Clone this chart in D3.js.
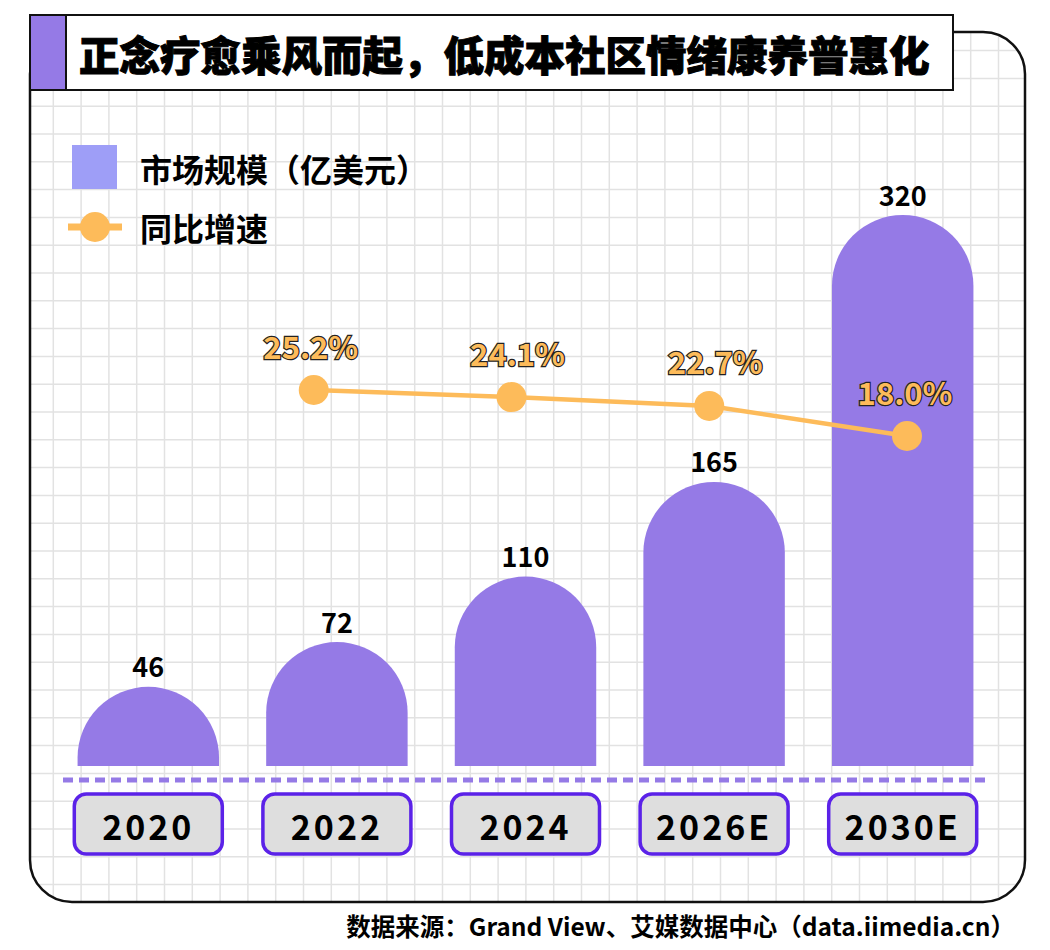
<!DOCTYPE html>
<html>
<head>
<meta charset="utf-8">
<script src="https://cdn.jsdelivr.net/npm/d3@7"></script>
<style>
  body { margin: 0; background: #fff; }
  svg text { font-family: "Noto Sans CJK SC", "Noto Sans", sans-serif; }
</style>
</head>
<body>
<div id="chart"></div>
<script>
var years = ["2020", "2022", "2024", "2026E", "2030E"];
var marketSize = [46, 72, 110, 165, 320];
var growthYears = ["2022", "2024", "2026E", "2030E"];
var growthRate = [25.2, 24.1, 22.7, 18.0];

var title = "正念疗愈乘风而起，低成本社区情绪康养普惠化";
var legendLabels = ["市场规模（亿美元）", "同比增速"];
var source = "数据来源：Grand View、艾媒数据中心（data.iimedia.cn）";

var width = 1050, height = 950;
var barColor = "#957ae6", legendBarColor = "#9e9ef7", lineColor = "#fdbb5a";

var svg = d3.select("#chart").append("svg")
    .attr("width", width)
    .attr("height", height);

// card with grid
var card = {x: 30, y: 32, w: 995, h: 870, r: 42};
svg.append("clipPath").attr("id", "cardClip")
  .append("rect")
    .attr("x", card.x).attr("y", card.y)
    .attr("width", card.w).attr("height", card.h)
    .attr("rx", card.r);

var grid = svg.append("g").attr("clip-path", "url(#cardClip)");
var gs = 27.8;
grid.selectAll(".vl")
  .data(d3.range(53.3 - gs, card.x + card.w, gs))
  .enter().append("line")
    .attr("x1", function(d) { return d; }).attr("x2", function(d) { return d; })
    .attr("y1", card.y).attr("y2", card.y + card.h)
    .attr("stroke", "#e2e2e2").attr("stroke-width", 1.5);
grid.selectAll(".hl")
  .data(d3.range(134 - 4 * gs, card.y + card.h, gs))
  .enter().append("line")
    .attr("y1", function(d) { return d; }).attr("y2", function(d) { return d; })
    .attr("x1", card.x).attr("x2", card.x + card.w)
    .attr("stroke", "#e2e2e2").attr("stroke-width", 1.5);

svg.append("rect")
    .attr("x", card.x).attr("y", card.y)
    .attr("width", card.w).attr("height", card.h)
    .attr("rx", card.r)
    .attr("fill", "none").attr("stroke", "#111").attr("stroke-width", 2.5);

// title box
svg.append("rect")
    .attr("x", 30).attr("y", 15).attr("width", 923).attr("height", 75)
    .attr("fill", "#fff").attr("stroke", "#111").attr("stroke-width", 2);
svg.append("rect")
    .attr("x", 31).attr("y", 16).attr("width", 35).attr("height", 73)
    .attr("fill", barColor);
svg.append("line")
    .attr("x1", 66).attr("x2", 66).attr("y1", 15).attr("y2", 90)
    .attr("stroke", "#111").attr("stroke-width", 2);
svg.append("text")
    .attr("x", 79).attr("y", 53)
    .attr("dominant-baseline", "central")
    .style("font-size", "40.5px").style("font-weight", 900)
    .attr("fill", "#000")
    .attr("stroke", "#000").attr("stroke-width", 1)
    .text(title);

// scales
var x = d3.scaleBand().domain(years).range([54, 997]).paddingInner(0.25).paddingOuter(0.125);
var y = d3.scaleLinear().domain([0, 320]).range([766, 215]);
var xl = d3.scalePoint().domain(years).range([116, 907]);
var yl = d3.scaleLinear().domain([0, 25.2]).range([551, 390]);

// bars with round tops
function barPath(d, i) {
  var x0 = x(years[i]), w = x.bandwidth(), r = w / 2;
  var yb = y(0), yt = y(d);
  var ya = Math.min(yt + r, yb);
  return "M" + x0 + "," + yb + "L" + x0 + "," + ya +
    "A" + r + "," + r + " 0 0 1 " + (x0 + w) + "," + ya +
    "L" + (x0 + w) + "," + yb + "Z";
}
svg.selectAll(".bar")
  .data(marketSize)
  .enter().append("path")
    .attr("class", "bar")
    .attr("d", barPath)
    .attr("fill", barColor);

svg.selectAll(".val")
  .data(marketSize)
  .enter().append("text")
    .attr("x", function(d, i) { return x(years[i]) + x.bandwidth() / 2; })
    .attr("y", function(d) { return y(d) - 21; })
    .attr("text-anchor", "middle")
    .attr("dominant-baseline", "central")
    .style("font-size", "27px").style("font-weight", 700)
    .text(function(d) { return d; });

// baseline dashed
svg.append("line")
    .attr("x1", 63).attr("x2", 985).attr("y1", 780).attr("y2", 780)
    .attr("stroke", barColor).attr("stroke-width", 5)
    .attr("stroke-dasharray", "10,6");

// year boxes
var yb = svg.selectAll(".yb")
  .data(years)
  .enter().append("g")
    .attr("transform", function(d) { return "translate(" + (x(d) + x.bandwidth() / 2) + ",824)"; });
yb.append("rect")
    .attr("x", -74).attr("y", -30).attr("width", 148).attr("height", 60)
    .attr("rx", 12)
    .attr("fill", "#dedede").attr("stroke", "#5b22e8").attr("stroke-width", 3.5);
yb.append("text")
    .attr("text-anchor", "middle")
    .attr("dominant-baseline", "central")
    .attr("y", 1)
    .style("font-size", "34px").style("font-weight", 700)
    .style("letter-spacing", "3px")
    .text(function(d) { return d; });

// growth line
var line = d3.line()
    .x(function(d, i) { return xl(growthYears[i]); })
    .y(function(d) { return yl(d); });
svg.append("path")
    .datum(growthRate)
    .attr("d", line)
    .attr("fill", "none").attr("stroke", lineColor).attr("stroke-width", 4.5);
svg.selectAll(".dot")
  .data(growthRate)
  .enter().append("circle")
    .attr("cx", function(d, i) { return xl(growthYears[i]); })
    .attr("cy", function(d) { return yl(d); })
    .attr("r", 15)
    .attr("fill", lineColor);
svg.selectAll(".pct")
  .data(growthRate)
  .enter().append("text")
    .attr("x", function(d, i) { return xl(growthYears[i]) + (i == 3 ? -2 : i == 0 ? -3 : 6); })
    .attr("y", function(d) { return yl(d) - 45; })
    .attr("text-anchor", "middle")
    .attr("dominant-baseline", "central")
    .style("font-size", "31px").style("font-weight", 700)
    .attr("fill", lineColor)
    .attr("stroke", "#222").attr("stroke-width", 2.4)
    .style("paint-order", "stroke")
    .text(function(d) { return d.toFixed(1) + "%"; });

// legend
svg.append("rect")
    .attr("x", 72).attr("y", 145).attr("width", 45).attr("height", 44)
    .attr("fill", legendBarColor);
svg.append("line")
    .attr("x1", 68).attr("x2", 122).attr("y1", 227).attr("y2", 227)
    .attr("stroke", lineColor).attr("stroke-width", 7);
svg.append("circle")
    .attr("cx", 95).attr("cy", 227).attr("r", 15)
    .attr("fill", lineColor);
svg.selectAll(".lg")
  .data(legendLabels)
  .enter().append("text")
    .attr("x", 140)
    .attr("y", function(d, i) { return i == 0 ? 168 : 227; })
    .attr("dominant-baseline", "central")
    .style("font-size", "32px").style("font-weight", 700)
    .text(function(d) { return d; });

// source
svg.append("text")
    .attr("x", 1015).attr("y", 925)
    .attr("text-anchor", "end")
    .attr("dominant-baseline", "central")
    .style("font-size", "24.5px").style("font-weight", 700)
    .text(source);
</script>
</body>
</html>
